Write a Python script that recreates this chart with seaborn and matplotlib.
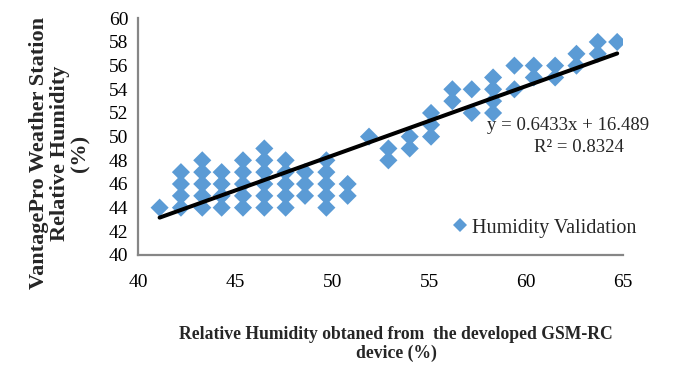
import matplotlib
matplotlib.use("Agg")
import matplotlib.pyplot as plt
import seaborn as sns
import numpy as np
import pandas as pd
from matplotlib.lines import Line2D

# Data (device RH vs VantagePro RH)
device_rh = [41.1,
             42.2, 42.2, 42.2, 42.2,
             43.3, 43.3, 43.3, 43.3, 43.3,
             44.3, 44.3, 44.3, 44.3,
             45.4, 45.4, 45.4, 45.4, 45.4,
             46.5, 46.5, 46.5, 46.5, 46.5, 46.5,
             47.6, 47.6, 47.6, 47.6, 47.6,
             48.6, 48.6, 48.6,
             49.7, 49.7, 49.7, 49.7, 49.7,
             50.8, 50.8,
             51.9,
             52.9, 52.9,
             54.0, 54.0,
             55.1, 55.1, 55.1,
             56.2, 56.2,
             57.2, 57.2,
             58.3, 58.3, 58.3, 58.3,
             59.4, 59.4,
             60.4, 60.4,
             61.5, 61.5,
             62.6, 62.6,
             63.7, 63.7,
             64.7]
vantage_rh = [44,
              47, 46, 45, 44,
              48, 47, 46, 45, 44,
              47, 46, 45, 44,
              48, 47, 46, 45, 44,
              49, 48, 47, 46, 45, 44,
              48, 47, 46, 45, 44,
              47, 46, 45,
              48, 47, 46, 45, 44,
              46, 45,
              50,
              49, 48,
              50, 49,
              52, 51, 50,
              54, 53,
              54, 52,
              55, 54, 53, 52,
              56, 54,
              56, 55,
              56, 55,
              57, 56,
              58, 57,
              58]
x_ticks = [40, 45, 50, 55, 60, 65]
y_ticks = [40, 42, 44, 46, 48, 50, 52, 54, 56, 58, 60]
series_name = "Humidity Validation"
eq_text = "y = 0.6433x + 16.489"
r2_text = "R² = 0.8324"

df = pd.DataFrame({"x": device_rh, "y": vantage_rh})

sns.set_style("white")
plt.rcParams["font.family"] = ["Liberation Serif", "DejaVu Serif"]

fig = plt.figure(figsize=(6.89, 3.66), dpi=100)
ax = fig.add_axes([0.2007, 0.3033, 0.9042 - 0.2007, 0.95 - 0.3033])

blue = "#5B9BD5"
grey = "#868686"

sns.scatterplot(data=df, x="x", y="y", marker="D", s=85, color=blue,
                edgecolor="none", linewidth=0, ax=ax,
                legend=False, zorder=2)
sns.regplot(data=df, x="x", y="y", scatter=False, ci=None, truncate=True,
            line_kws={"color": "black", "lw": 2.9, "zorder": 3}, ax=ax)

ax.set_xlim(40, 65)
ax.set_ylim(40, 60)
ax.set_xticks(x_ticks)
ax.set_yticks(y_ticks)
ax.set_xlabel("")
ax.set_ylabel("")
for s in ["top", "right"]:
    ax.spines[s].set_visible(False)
for s in ["left", "bottom"]:
    ax.spines[s].set_color(grey)
    ax.spines[s].set_linewidth(1.6)
ax.tick_params(axis="both", which="major", direction="out", length=4,
               width=1.6, color=grey, labelsize=14, labelcolor="black",
               pad=3)
ax.tick_params(axis="x", pad=10)

# trendline annotation
fig.text(568 / 689, 1 - 126 / 366, eq_text, ha="center", va="center",
         fontsize=13.5)
fig.text(579 / 689, 1 - 147 / 366, r2_text, ha="center", va="center",
         fontsize=13.5)

# legend
h = Line2D([], [], marker="D", linestyle="none", color=blue,
           markersize=7, markeredgewidth=0)
ax.legend([h], [series_name], loc="center left",
          bbox_to_anchor=((451 - 138.3) / 484.7, (255 - 228) / 236.7),
          frameon=False, fontsize=14.5, handletextpad=0.15,
          handlelength=0.9, borderaxespad=0, borderpad=0)

# axis titles
fig.text(60 / 689, 1 - 153 / 366,
         "VantagePro Weather Station\nRelative Humidity\n(%)",
         rotation=90, ha="center", va="center", multialignment="center",
         fontsize=16, fontweight="bold", linespacing=1.05)
fig.text(396 / 689, 1 - 344 / 366,
         "Relative Humidity obtaned from  the developed GSM-RC\ndevice (%)",
         ha="center", va="center", multialignment="center",
         fontsize=12.7, fontweight="bold", linespacing=1.08)

fig.savefig("out.png", dpi=100)
